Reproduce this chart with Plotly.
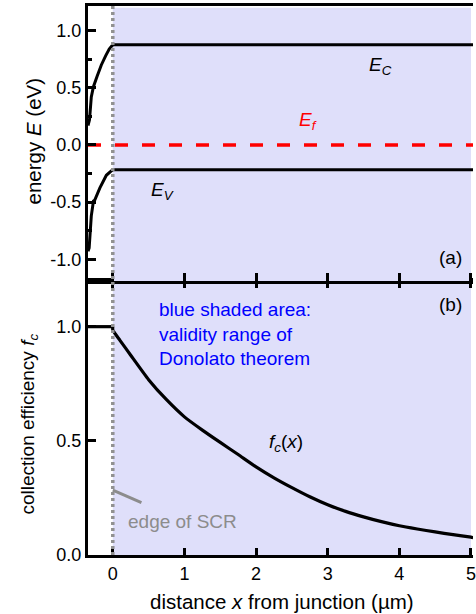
import plotly.graph_objects as go

# ---------------- data ----------------
x_left_c = [-0.346, -0.325, -0.30, -0.27, -0.22, -0.16, -0.10, -0.05, 0.0]
ec_left = [0.17, 0.22, 0.42, 0.51, 0.60, 0.70, 0.78, 0.84, 0.877]
x_left_v = [-0.346, -0.33, -0.30, -0.27, -0.25, -0.18, -0.09, 0.0]
ev_left = [-0.93, -0.90, -0.62, -0.49, -0.48, -0.375, -0.265, -0.216]
x_flat = [0.0, 5.03]
ec_flat = [0.877, 0.877]
ev_flat = [-0.216, -0.216]
x_ef = [-0.346, 5.03]
ef_vals = [0.0, 0.0]

fc_flat_x = [-0.346, 0.0]
fc_flat = [1.0, 1.0]
fc_x = [0.0, 0.0, 0.1, 0.25, 0.5, 0.75, 1.0, 1.25, 1.5, 1.75, 2.0,
        2.25, 2.5, 2.75, 3.0, 3.25, 3.5, 3.75, 4.0, 4.25, 4.5, 4.75, 5.0, 5.03]
fc_vals = [1.0, 0.985, 0.94, 0.875, 0.768, 0.68, 0.605, 0.547, 0.493, 0.44, 0.386,
           0.338, 0.295, 0.255, 0.22, 0.191, 0.167, 0.146, 0.128, 0.114, 0.101, 0.089, 0.078, 0.076]

x_ticks = [0, 1, 2, 3, 4, 5]
e_ticks = [-1.0, -0.5, 0.0, 0.5, 1.0]
e_ticktext = ["-1.0", "-0.5", "0.0", "0.5", "1.0"]
f_ticks = [0.0, 0.5, 1.0]
f_ticktext = ["0.0", "0.5", "1.0"]

X_RANGE = [-0.346, 5.028]
E_RANGE = [-1.19, 1.216]
F_RANGE = [0.0, 1.2]

FONT = "Liberation Sans, Arial, Helvetica, sans-serif"
SHADE = "rgb(223,223,250)"
GRAY = "rgb(145,145,145)"

fig = go.Figure()

# top panel traces
fig.add_trace(go.Scatter(x=x_left_c, y=ec_left, xaxis="x2", yaxis="y2", mode="lines",
                         line=dict(color="black", width=3), showlegend=False))
fig.add_trace(go.Scatter(x=x_flat, y=ec_flat, xaxis="x2", yaxis="y2", mode="lines",
                         line=dict(color="black", width=3), showlegend=False))
fig.add_trace(go.Scatter(x=x_left_v, y=ev_left, xaxis="x2", yaxis="y2", mode="lines",
                         line=dict(color="black", width=3), showlegend=False))
fig.add_trace(go.Scatter(x=x_flat, y=ev_flat, xaxis="x2", yaxis="y2", mode="lines",
                         line=dict(color="black", width=3), showlegend=False))
fig.add_trace(go.Scatter(x=x_ef, y=ef_vals, xaxis="x2", yaxis="y2", mode="lines",
                         line=dict(color="red", width=3.5, dash="13px,14px"), showlegend=False))

# bottom panel traces
fig.add_trace(go.Scatter(x=fc_flat_x, y=fc_flat, xaxis="x", yaxis="y", mode="lines",
                         line=dict(color="black", width=3.2), showlegend=False))
fig.add_trace(go.Scatter(x=fc_x, y=fc_vals, xaxis="x", yaxis="y", mode="lines",
                         line=dict(color="black", width=3.2, shape="spline", smoothing=0.5),
                         showlegend=False))

D = 0.4991  # split between panels
tickfont = dict(family=FONT, size=18, color="black")

fig.update_layout(
    width=476, height=614,
    margin=dict(l=88, r=0, t=6, b=59),
    paper_bgcolor="white", plot_bgcolor="white",
    font=dict(family=FONT, size=18, color="black"),
    xaxis=dict(domain=[0, 1], anchor="y", range=X_RANGE, tickvals=x_ticks,
               ticks="inside", ticklen=7, tickwidth=2.5, tickcolor="black",
               ticklabeloverflow="allow",
               showline=True, linewidth=3, linecolor="black", mirror="ticks",
               showgrid=False, zeroline=False, tickfont=tickfont),
    yaxis=dict(domain=[0, D], anchor="x", range=F_RANGE, tickvals=f_ticks, ticktext=f_ticktext,
               ticks="inside", ticklen=8, tickwidth=2.5, tickcolor="black",
               showline=True, linewidth=3, linecolor="black",
               showgrid=False, zeroline=False, tickfont=tickfont),
    yaxis3=dict(overlaying="y", side="right", anchor="x", range=F_RANGE, tickvals=[0.5, 1.0],
                ticks="inside", ticklen=6, tickwidth=2.5, tickcolor="black",
                showticklabels=False, showline=False, showgrid=False, zeroline=False),
    xaxis2=dict(domain=[0, 1], anchor="y2", matches="x", range=X_RANGE, tickvals=x_ticks,
                ticks="inside", ticklen=8, tickwidth=2.5, tickcolor="black",
                showticklabels=False, showline=True, linewidth=3, linecolor="black", mirror=True,
                showgrid=False, zeroline=False),
    yaxis2=dict(domain=[D, 1], anchor="x2", range=E_RANGE, tickvals=e_ticks, ticktext=e_ticktext,
                ticks="inside", ticklen=8, tickwidth=2.5, tickcolor="black",
                minor=dict(dtick=0.25, tick0=0, ticks="inside", ticklen=4, tickwidth=2.5, tickcolor="black"),
                showline=True, linewidth=3, linecolor="black",
                showgrid=False, zeroline=False, tickfont=tickfont),
    yaxis4=dict(overlaying="y2", side="right", anchor="x2", range=E_RANGE, dtick=0.25, tick0=0,
                ticks="inside", ticklen=4, tickwidth=2.5, tickcolor="black",
                showticklabels=False, showline=False, showgrid=False, zeroline=False),
)

shapes = [
    dict(type="rect", xref="x", yref="y", x0=0, x1=5.0, y0=0, y1=1.2,
         fillcolor=SHADE, line=dict(width=0), layer="below"),
    dict(type="rect", xref="x2", yref="y2", x0=0, x1=5.0, y0=E_RANGE[0], y1=1.2,
         fillcolor=SHADE, line=dict(width=0), layer="below"),
    dict(type="line", xref="x", yref="paper", x0=0, x1=0, y0=0, y1=1,
         line=dict(color=GRAY, width=3.5, dash="3px,3px"), layer="above"),
    dict(type="line", xref="x", yref="y", x0=0.0, x1=0.40, y0=0.284, y1=0.229,
         line=dict(color="rgb(140,140,140)", width=3), layer="above"),
]
fig.update_layout(shapes=shapes)

ann = [
    dict(text="<i>E</i><sub><i>C</i></sub>", x=3.73, y=0.69, xref="x2", yref="y2",
         showarrow=False, font=dict(size=19, color="black")),
    dict(text="<i>E</i><sub><i>f</i></sub>", x=2.73, y=0.21, xref="x2", yref="y2",
         showarrow=False, font=dict(size=19, color="red")),
    dict(text="<i>E</i><sub><i>V</i></sub>", x=0.69, y=-0.40, xref="x2", yref="y2",
         showarrow=False, font=dict(size=19, color="black")),
    dict(text="(a)", x=4.90, y=-0.986, xref="x2", yref="y2", xanchor="right",
         showarrow=False, font=dict(size=19, color="black")),
    dict(text="(b)", x=4.90, y=1.096, xref="x", yref="y", xanchor="right",
         showarrow=False, font=dict(size=19, color="black")),
    dict(text="blue shaded area:<br>validity range of<br>Donolato theorem", x=0.62, y=0.969,
         xref="x", yref="y", xanchor="left", align="left",
         showarrow=False, font=dict(size=19, color="blue")),
    dict(text="<i>f</i><sub><i>c</i></sub>(<i>x</i>)", x=2.42, y=0.49, xref="x", yref="y",
         showarrow=False, font=dict(size=19, color="black")),
    dict(text="edge of SCR", x=0.18, y=0.145, xref="x", yref="y", xanchor="left",
         showarrow=False, font=dict(size=19, color="rgb(140,140,140)")),
    dict(text="energy <i>E</i> (eV)", x=-0.1418, y=0.754, xref="paper", yref="paper",
         textangle=-90, showarrow=False, xanchor="center", yanchor="middle",
         font=dict(size=20.5, color="black")),
    dict(text="collection efficiency <i>f</i><sub><i>c</i></sub>", x=-0.152, y=0.2386,
         xref="paper", yref="paper", textangle=-90, showarrow=False,
         xanchor="center", yanchor="middle", font=dict(size=19, color="black")),
    dict(text="distance <i>x</i> from junction (µm)", x=0.505, y=-0.0838,
         xref="paper", yref="paper", showarrow=False, xanchor="center", yanchor="middle",
         font=dict(size=20.5, color="black")),
]
fig.update_layout(annotations=ann)

fig.write_html("out.html",
               config={"displayModeBar": False},
               post_script="document.body.style.margin='0';document.body.style.padding='0';"
                           "document.body.style.overflow='hidden';")
